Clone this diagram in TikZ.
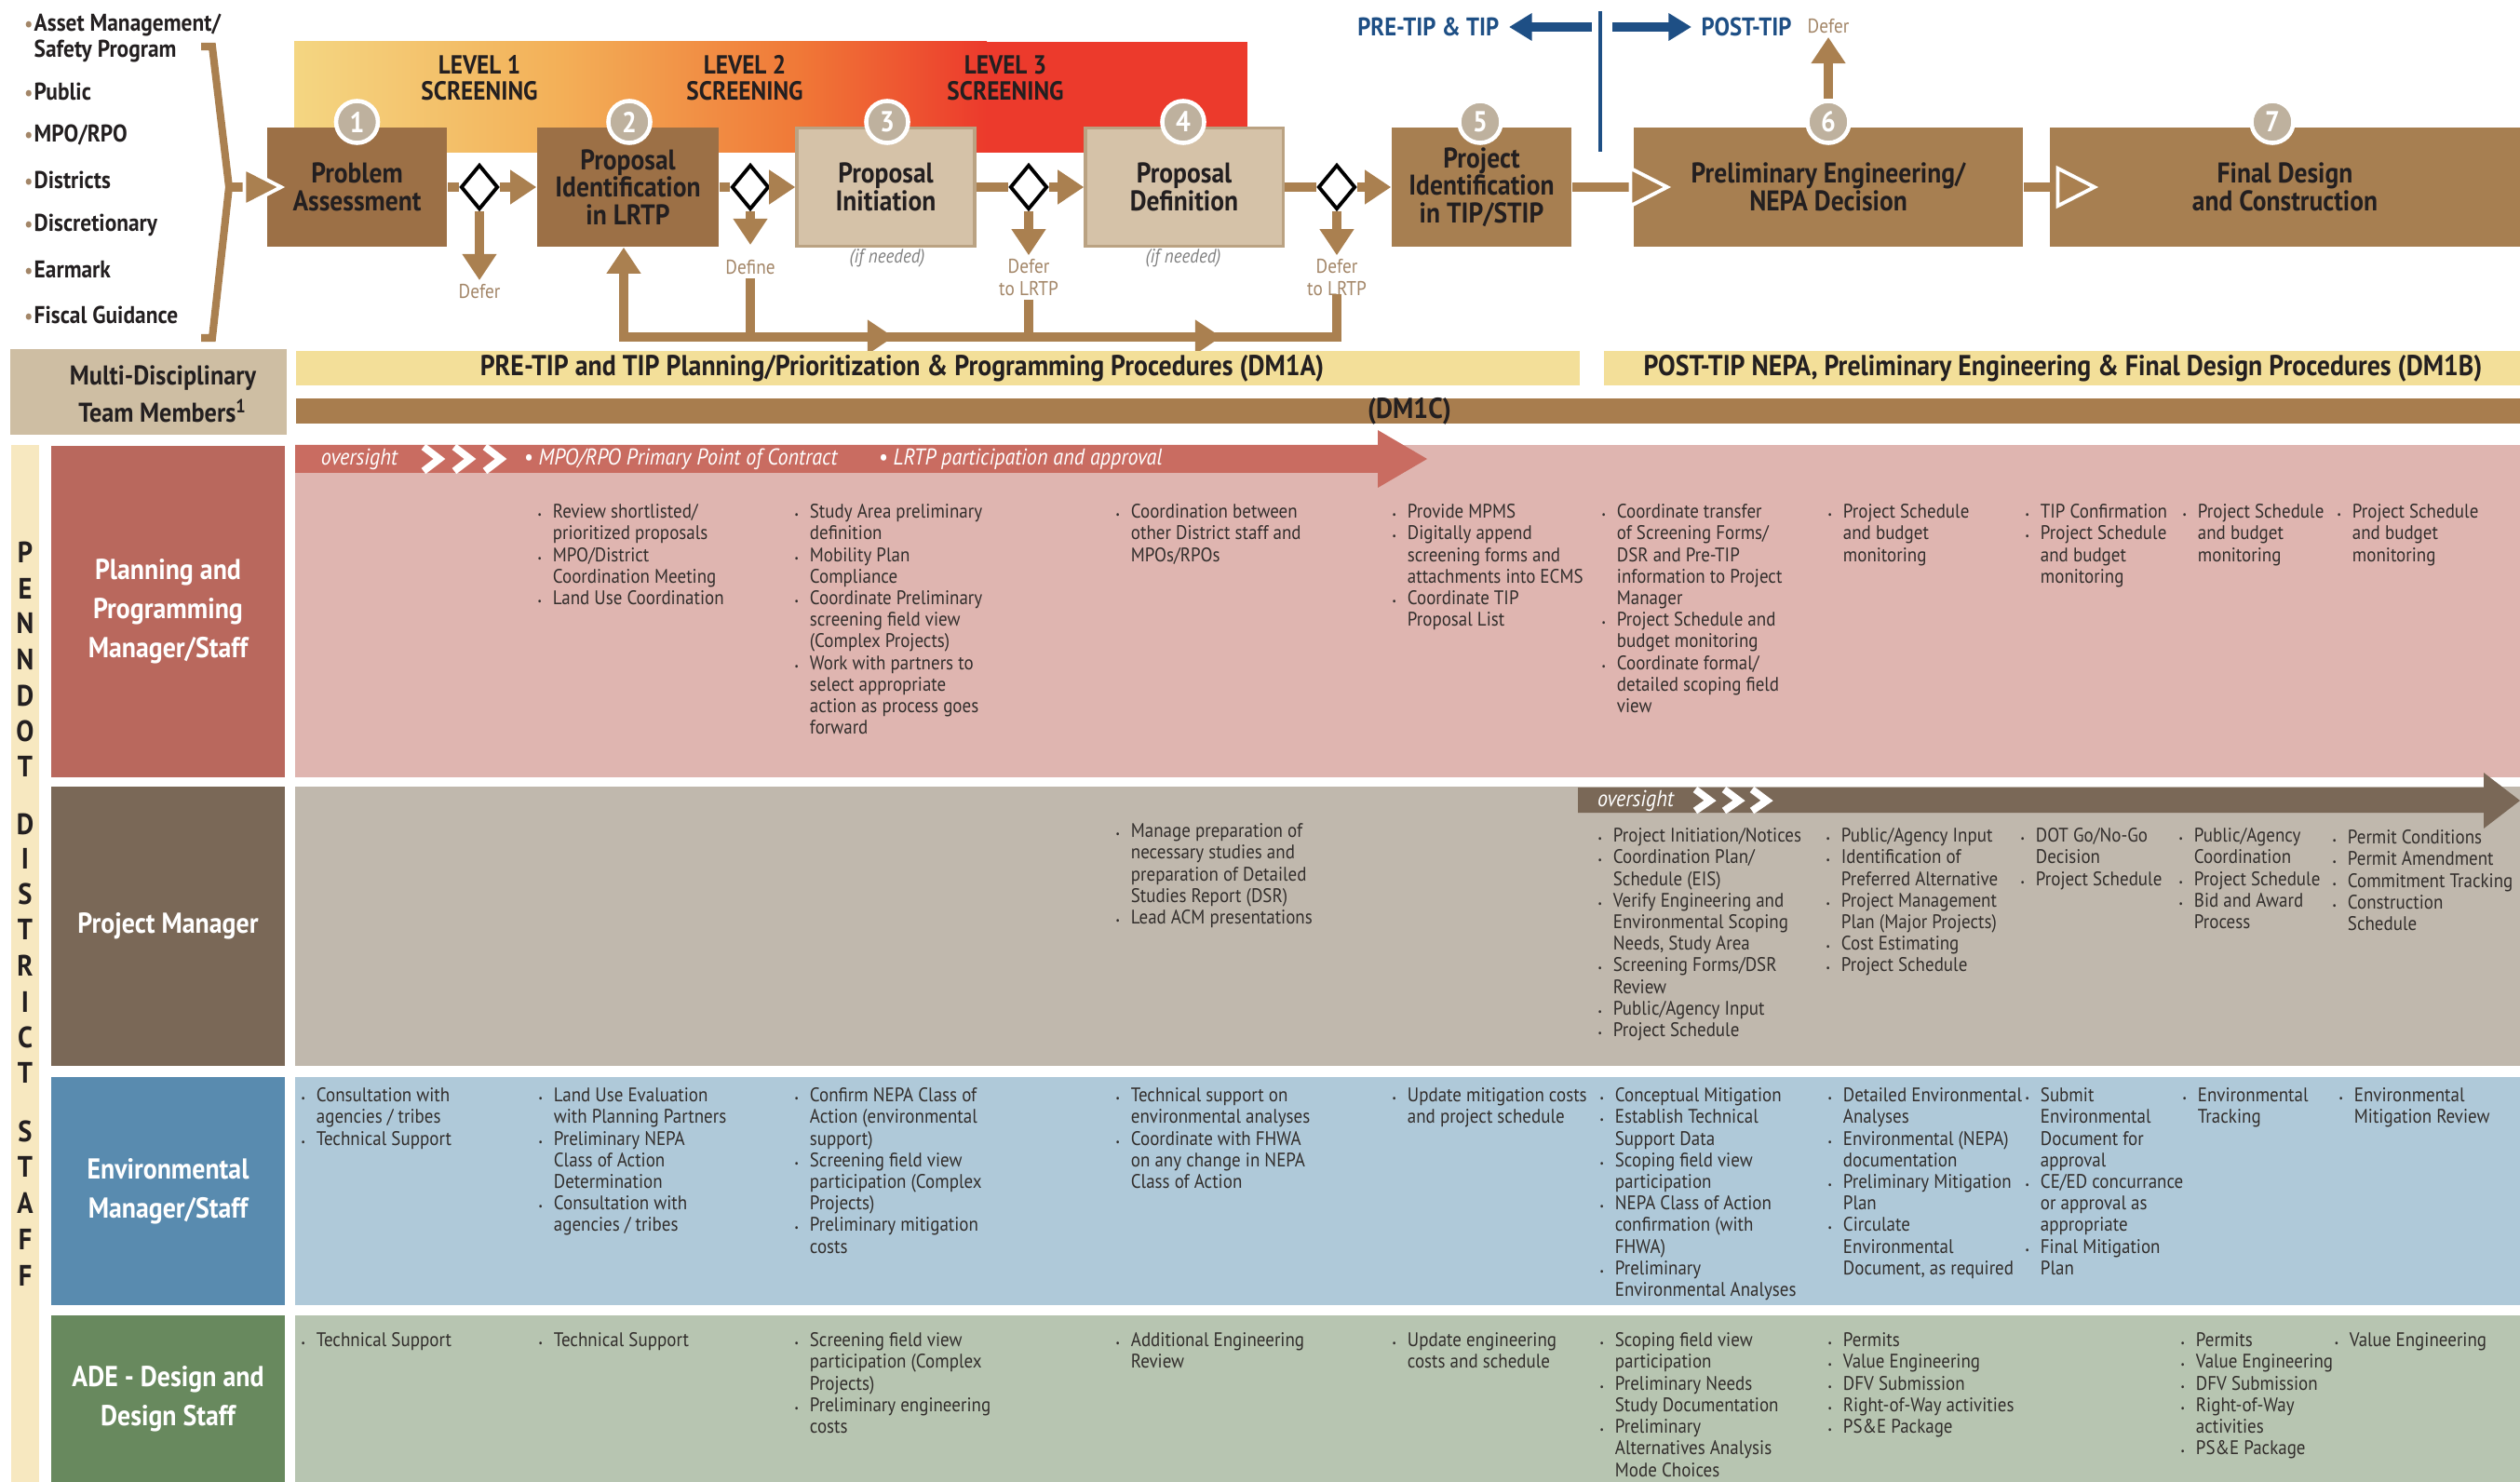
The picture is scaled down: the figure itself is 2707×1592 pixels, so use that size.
\documentclass[tikz,border=0pt]{standalone}
\usepackage{fontspec}
\setmainfont{PT Sans}[FakeStretch=0.9]
\usetikzlibrary{arrows.meta,shapes.geometric}

\definecolor{ink}{RGB}{35,31,32}
\definecolor{txt}{RGB}{50,46,44}
\definecolor{dkbrown}{RGB}{156,112,70}
\definecolor{brown}{RGB}{167,127,81}
\definecolor{lnbrown}{RGB}{170,128,80}
\definecolor{ltbox}{RGB}{213,194,168}
\definecolor{ltedge}{RGB}{186,162,130}
\definecolor{dotfill}{RGB}{190,177,158}
\definecolor{tanlbl}{RGB}{163,134,104}
\definecolor{tipblue}{RGB}{30,79,133}
\definecolor{scrA}{RGB}{244,214,130}
\definecolor{scrB}{RGB}{243,176,88}
\definecolor{scrC}{RGB}{240,120,55}
\definecolor{scrD}{RGB}{236,58,44}
\definecolor{teambox}{RGB}{206,190,163}
\definecolor{dmband}{RGB}{243,223,153}
\definecolor{dmcband}{RGB}{168,125,78}
\definecolor{staffstrip}{RGB}{247,232,192}
\definecolor{plLab}{RGB}{185,104,93}
\definecolor{plRow}{RGB}{223,181,176}
\definecolor{plBand}{RGB}{201,108,97}
\definecolor{pmLab}{RGB}{122,104,87}
\definecolor{pmRow}{RGB}{192,184,173}
\definecolor{enLab}{RGB}{89,139,175}
\definecolor{enRow}{RGB}{175,201,217}
\definecolor{deLab}{RGB}{104,137,94}
\definecolor{deRow}{RGB}{183,197,177}

\newcommand{\itm}{\makebox[4.6pt][l]{\scalebox{0.5}{\textbullet}}}
\newcommand{\ind}{\hspace*{4.6pt}}
\newcommand{\lbul}{\llap{\textcolor{tanlbl}{\scalebox{0.85}{\textbullet}}\hspace{0.4pt}}}

\tikzset{
  procbox/.style={rectangle, inner sep=0pt, align=center, text=ink,
    font=\bfseries\fontsize{8.7}{8.4}\selectfont},
  gate/.style={diamond, draw=black, fill=white, line width=1.1pt, inner sep=0pt,
    minimum width=0.4cm, minimum height=0.48cm},
  numdot/.style={circle, fill=dotfill, draw=white, line width=1.3pt, minimum size=0.45cm,
    inner sep=0pt, text=white, font=\bfseries\fontsize{8.8}{8.8}\selectfont},
  flow/.style={draw=lnbrown, line width=3pt},
  wtip/.style={-{Triangle[width=13pt,length=13pt,color=white,fill=lnbrown,line width=1.1pt]}},
  lbl/.style={text=tanlbl, align=center, inner sep=1pt, font=\fontsize{6.1}{6.7}\selectfont},
  lvl/.style={text=ink, align=center, font=\bfseries\fontsize{8}{8}\selectfont},
  srclist/.style={anchor=west, align=left, text=ink, inner sep=0pt,
    font=\bfseries\fontsize{7.4}{6.4}\selectfont},
  tiptxt/.style={text=tipblue, inner sep=0.1cm, font=\bfseries\fontsize{7.8}{7.8}\selectfont},
  barrow/.style={draw=tipblue, line width=2.6pt, -{Triangle[width=8pt,length=7pt]}},
  band/.style={text=ink, align=center, font=\bfseries\fontsize{8.8}{9}\selectfont},
  lane/.style={text=white, align=center, inner sep=0pt, font=\bfseries\fontsize{8.8}{12}\selectfont},
  note/.style={anchor=north west, align=left, inner sep=0pt, text=txt,
    font=\fontsize{6}{6.6}\selectfont},
  ovt/.style={text=white, inner sep=0pt, font=\itshape\fontsize{7}{7}\selectfont},
  chev/.style={draw=white, line width=2.2pt},
  vlet/.style={text=ink, inner sep=0pt, font=\bfseries\fontsize{9}{9}\selectfont}
}

\begin{document}
\begin{tikzpicture}[x=0.01cm, y=-0.01cm, >={Triangle[width=10pt,length=8pt]}]
    \useasboundingbox (0,0) rectangle (2707,1592);

    % Screening levels
    \shade[left color=scrA, right color=scrB] (316,45) rectangle (600,164);
    \shade[left color=scrB, right color=scrC] (599,45) rectangle (860,164);
    \shade[left color=scrC, right color=scrD] (859,45) rectangle (1060,164);
    \fill[scrD] (1059,45) rectangle (1340,164);
    \node[lvl] (lv1) at (515,84) {LEVEL 1\\SCREENING};
    \node[lvl] (lv2) at (800,84) {LEVEL 2\\SCREENING};
    \node[lvl] (lv3) at (1080,84) {LEVEL 3\\SCREENING};

    % Sources
    \node[srclist] (s1) at (36,41) {\lbul Asset Management/\\Safety Program};
    \node[srclist] (s2) at (36,98) {\lbul Public};
    \node[srclist] (s3) at (36,145) {\lbul MPO/RPO};
    \node[srclist] (s4) at (36,193) {\lbul Districts};
    \node[srclist] (s5) at (36,242) {\lbul Discretionary};
    \node[srclist] (s6) at (36,290) {\lbul Earmark};
    \node[srclist] (s7) at (36,338) {\lbul Fiscal Guidance};

    % Steps
    \node[procbox, fill=dkbrown, minimum width=1.93cm, minimum height=1.28cm] (b1) at (383.5,201) {Problem\\Assessment};
    \node[procbox, fill=dkbrown, minimum width=1.95cm, minimum height=1.28cm] (b2) at (674.5,201) {Proposal\\Identification\\in LRTP};
    \node[procbox, fill=ltbox, draw=ltedge, line width=0.9pt, minimum width=1.91cm, minimum height=1.27cm] (b3) at (951.5,201) {Proposal\\Initiation};
    \node[procbox, fill=ltbox, draw=ltedge, line width=0.9pt, minimum width=2.12cm, minimum height=1.27cm] (b4) at (1272,201) {Proposal\\Definition};
    \node[procbox, fill=brown, minimum width=1.93cm, minimum height=1.28cm] (b5) at (1591.5,201) {Project\\Identification\\in TIP/STIP};
    \node[procbox, fill=brown, minimum width=4.18cm, minimum height=1.28cm] (b6) at (1964,201) {Preliminary Engineering/\\NEPA Decision};
    \node[procbox, fill=brown, minimum width=5.05cm, minimum height=1.28cm] (b7) at (2454.5,201) {Final Design\\and Construction};
    \foreach \k/\xx in {1/383.5, 2/676, 3/953, 4/1271, 5/1590, 6/1964, 7/2441}
        \node[numdot] (n\k) at (\xx,131) {\k};
    \node[lbl, text=gray, font=\itshape\fontsize{6}{6.6}\selectfont] (if3) at (953,277) {(if needed)};
    \node[lbl, text=gray, font=\itshape\fontsize{6}{6.6}\selectfont] (if4) at (1271,277) {(if needed)};

    % Decisions
    \node[gate] (d1) at (515,201) {};
    \node[gate] (d2) at (806,201) {};
    \node[gate] (d3) at (1105,201) {};
    \node[gate] (d4) at (1436,201) {};
    \node[lbl] (df1) at (515,313) {Defer};
    \node[lbl] (df2) at (806,287) {Define};
    \node[lbl] (df3) at (1105,298) {Defer\\to LRTP};
    \node[lbl] (df4) at (1436,298) {Defer\\to LRTP};

    % Bracket
    \coordinate (brT) at (216,50);
    \coordinate (brM) at (246,201);
    \coordinate (brB) at (216,363);
    \draw[flow, line width=2.3pt] (brT) -- ++(12,0) -- (brM) -- (228,363) -- (brB);
    \draw[flow, wtip, shorten >=-0.2cm] (brM) -- (b1);

    % Main flow
    \draw[flow] (b1) -- (d1);
    \draw[flow,->] (d1) -- (b2);
    \draw[flow] (b2) -- (d2);
    \draw[flow,->] (d2) -- (b3);
    \draw[flow] (b3) -- (d3);
    \draw[flow,->] (d3) -- (b4);
    \draw[flow] (b4) -- (d4);
    \draw[flow,->] (d4) -- (b5);
    \draw[flow, wtip, shorten >=-0.41cm] (b5) -- (b6);
    \draw[flow, wtip, shorten >=-0.53cm] (b6) -- (b7);

    % Defer branches and return to LRTP
    \draw[flow,->] (d1) -- (df1);
    \draw[flow,->,shorten >=1.2mm] (d2) -- (df2);
    \draw[flow,->] (d3) -- (df3);
    \draw[flow,->] (d4) -- (df4);
    \coordinate (rA) at (670,362);
    \draw[flow] (df2) -- (df2 |- rA);
    \draw[flow] (df3) -- (df3 |- rA);
    \draw[flow, line cap=rect] (df4) |- (rA);
    \draw[flow,->] (rA) -- (rA |- b2.south);
    \draw[flow,->] (rA) ++(240,0) -- ++(50,0);
    \draw[flow,->] (rA) ++(592,0) -- ++(50,0);

    % PRE-TIP / POST-TIP
    \node[tiptxt, anchor=east] (pre) at (1621,29) {PRE-TIP \& TIP};
    \node[tiptxt, anchor=west] (post) at (1817,29) {POST-TIP};
    \node[lbl] (dfT) at (1964,28) {Defer};
    \coordinate (sepT) at (1719,12);
    \coordinate (sepB) at (1719,163);
    \coordinate (sepL) at (1710,29);
    \coordinate (sepR) at (1732,29);
    \draw[draw=tipblue, line width=0.9pt] (sepT) -- (sepB);
    \draw[barrow] (sepL) -- (pre);
    \draw[barrow] (sepR) -- (post);
    \draw[flow,->] (n6) -- (dfT);

    % Procedure bands
    \fill[teambox] (11,375) rectangle (308,467);
    \node[band, font=\bfseries\fontsize{8.3}{11.4}\selectfont] (team) at (175,423) {Multi-Disciplinary\\Team Members\textsuperscript{1}};
    \fill[dmband] (318,377) rectangle (1697,414);
    \node[band] (dm1a) at (969,396) {PRE-TIP and TIP Planning/Prioritization \& Programming Procedures (DM1A)};
    \fill[dmband] (1723,377) rectangle (2707,414);
    \node[band] (dm1b) at (2216,396) {POST-TIP NEPA, Preliminary Engineering \& Final Design Procedures (DM1B)};
    \fill[dmcband] (318,428) rectangle (2707,455);
    \node[band] (dm1c) at (1514,442) {(DM1C)};

    % PENNDOT DISTRICT STAFF
    \fill[staffstrip] (12,478) rectangle (42,1592);
    \foreach \ch/\yy in {P/593, E/632, N/669, N/708, D/747, O/785, T/823,
                         D/885, I/922, S/960, T/998, R/1037, I/1076, C/1114, T/1152,
                         S/1215, T/1253, A/1292, F/1331, F/1370}
        \node[vlet] (v\yy) at (27,\yy) {\ch};

    % Lanes
    \fill[plRow] (317,478) rectangle (2707,835);
    \fill[pmRow] (317,845) rectangle (2707,1145);
    \fill[enRow] (317,1157) rectangle (2707,1402);
    \fill[deRow] (317,1413) rectangle (2707,1592);
    \node[lane, fill=plLab, minimum width=2.51cm, minimum height=3.56cm] (lpl) at (180.5,657) {Planning and\\Programming\\Manager/Staff};
    \node[lane, fill=pmLab, minimum width=2.51cm, minimum height=3.0cm] (lpm) at (180.5,995) {Project Manager};
    \node[lane, fill=enLab, minimum width=2.51cm, minimum height=2.45cm] (len) at (180.5,1279.5) {Environmental\\Manager/Staff};
    \node[lane, fill=deLab, minimum width=2.51cm, minimum height=1.79cm] (lde) at (180.5,1502.5) {ADE - Design and\\Design Staff};

    % Oversight arrows
    \fill[plBand] (317,478) -- (1480,478) -- (1480,462) -- (1533,493) -- (1480,524) -- (1480,508) -- (317,508) -- cycle;
    \foreach \cx in {455,488,521}
        \draw[chev] (\cx,480) -- ({\cx+17},493) -- (\cx,506);
    \node[ovt] (ov1) at (386,493) {oversight};
    \node[ovt, anchor=west] (mpo) at (562,493) {\textbullet\ MPO/RPO Primary Point of Contract};
    \node[ovt, anchor=west] (lrtp) at (943,493) {\textbullet\ LRTP participation and approval};

    \fill[pmLab] (1695,846) -- (2668,846) -- (2668,830) -- (2707,860) -- (2668,890) -- (2668,873) -- (1695,873) -- cycle;
    \foreach \cx in {1821,1852,1882}
        \draw[chev] (\cx,848) -- ({\cx+16},860) -- (\cx,871);
    \node[ovt] (ov2) at (1757,860) {oversight};

    % Planning and Programming
    \node[note] (pl2) at (577,541) {\itm Review shortlisted/\\\ind prioritized proposals\\\itm MPO/District\\\ind Coordination Meeting\\\itm Land Use Coordination};
    \node[note] (pl3) at (853,541) {\itm Study Area preliminary\\\ind definition\\\itm Mobility Plan\\\ind Compliance\\\itm Coordinate Preliminary\\\ind screening field view\\\ind (Complex Projects)\\\itm Work with partners to\\\ind select appropriate\\\ind action as process goes\\\ind forward};
    \node[note] (pl4) at (1198,541) {\itm Coordination between\\\ind other District staff and\\\ind MPOs/RPOs};
    \node[note] (pl5) at (1495,541) {\itm Provide MPMS\\\itm Digitally append\\\ind screening forms and\\\ind attachments into ECMS\\\itm Coordinate TIP\\\ind Proposal List};
    \node[note] (pl6) at (1720,541) {\itm Coordinate transfer\\\ind of Screening Forms/\\\ind DSR and Pre-TIP\\\ind information to Project\\\ind Manager\\\itm Project Schedule and\\\ind budget monitoring\\\itm Coordinate formal/\\\ind detailed scoping field\\\ind view};
    \node[note] (pl8) at (2175,541) {\itm TIP Confirmation\\\itm Project Schedule\\\ind and budget\\\ind monitoring};
    \foreach \cx/\nm in {1963/pl7, 2344/pl9, 2510/pl10}
        \node[note] (\nm) at (\cx,541) {\itm Project Schedule\\\ind and budget\\\ind monitoring};

    % Project Manager
    \node[note] (pm4) at (1198,884) {\itm Manage preparation of\\\ind necessary studies and\\\ind preparation of Detailed\\\ind Studies Report (DSR)\\\itm Lead ACM presentations};
    \node[note] (pm6) at (1716,889) {\itm Project Initiation/Notices\\\itm Coordination Plan/\\\ind Schedule (EIS)\\\itm Verify Engineering and\\\ind Environmental Scoping\\\ind Needs, Study Area\\\itm Screening Forms/DSR\\\ind Review\\\itm Public/Agency Input\\\itm Project Schedule};
    \node[note] (pm7) at (1961,889) {\itm Public/Agency Input\\\itm Identification of\\\ind Preferred Alternative\\\itm Project Management\\\ind Plan (Major Projects)\\\itm Cost Estimating\\\itm Project Schedule};
    \node[note] (pm8) at (2170,889) {\itm DOT Go/No-Go\\\ind Decision\\\itm Project Schedule};
    \node[note] (pm9) at (2340,889) {\itm Public/Agency\\\ind Coordination\\\itm Project Schedule\\\itm Bid and Award\\\ind Process};
    \node[note] (pm10) at (2505,891) {\itm Permit Conditions\\\itm Permit Amendment\\\itm Commitment Tracking\\\itm Construction\\\ind Schedule};

    % Environmental
    \node[note] (en1) at (323,1168) {\itm Consultation with\\\ind agencies / tribes\\\itm Technical Support};
    \node[note] (en2) at (578,1168) {\itm Land Use Evaluation\\\ind with Planning Partners\\\itm Preliminary NEPA\\\ind Class of Action\\\ind Determination\\\itm Consultation with\\\ind agencies / tribes};
    \node[note] (en3) at (853,1168) {\itm Confirm NEPA Class of\\\ind Action (environmental\\\ind support)\\\itm Screening field view\\\ind participation (Complex\\\ind Projects)\\\itm Preliminary mitigation\\\ind costs};
    \node[note] (en4) at (1198,1168) {\itm Technical support on\\\ind environmental analyses\\\itm Coordinate with FHWA\\\ind on any change in NEPA\\\ind Class of Action};
    \node[note] (en5) at (1495,1168) {\itm Update mitigation costs\\\ind and project schedule};
    \node[note] (en6) at (1718,1168) {\itm Conceptual Mitigation\\\itm Establish Technical\\\ind Support Data\\\itm Scoping field view\\\ind participation\\\itm NEPA Class of Action\\\ind confirmation (with\\\ind FHWA)\\\itm Preliminary\\\ind Environmental Analyses};
    \node[note] (en7) at (1963,1168) {\itm Detailed Environmental\\\ind Analyses\\\itm Environmental (NEPA)\\\ind documentation\\\itm Preliminary Mitigation\\\ind Plan\\\itm Circulate\\\ind Environmental\\\ind Document, as required};
    \node[note] (en8) at (2175,1168) {\itm Submit\\\ind Environmental\\\ind Document for\\\ind approval\\\itm CE/ED concurrance\\\ind or approval as\\\ind appropriate\\\itm Final Mitigation\\\ind Plan};
    \node[note] (en9) at (2344,1168) {\itm Environmental\\\ind Tracking};
    \node[note] (en10) at (2512,1168) {\itm Environmental\\\ind Mitigation Review};

    % ADE - Design
    \node[note] (de1) at (323,1431) {\itm Technical Support};
    \node[note] (de2) at (578,1431) {\itm Technical Support};
    \node[note] (de3) at (853,1431) {\itm Screening field view\\\ind participation (Complex\\\ind Projects)\\\itm Preliminary engineering\\\ind costs};
    \node[note] (de4) at (1198,1431) {\itm Additional Engineering\\\ind Review};
    \node[note] (de5) at (1495,1431) {\itm Update engineering\\\ind costs and schedule};
    \node[note] (de6) at (1718,1431) {\itm Scoping field view\\\ind participation\\\itm Preliminary Needs\\\ind Study Documentation\\\itm Preliminary\\\ind Alternatives Analysis\\\ind Mode Choices};
    \node[note] (de7) at (1963,1431) {\itm Permits\\\itm Value Engineering\\\itm DFV Submission\\\itm Right-of-Way activities\\\itm PS\&E Package};
    \node[note] (de9) at (2342,1431) {\itm Permits\\\itm Value Engineering\\\itm DFV Submission\\\itm Right-of-Way\\\ind activities\\\itm PS\&E Package};
    \node[note] (de10) at (2507,1431) {\itm Value Engineering};
\end{tikzpicture}
\end{document}
